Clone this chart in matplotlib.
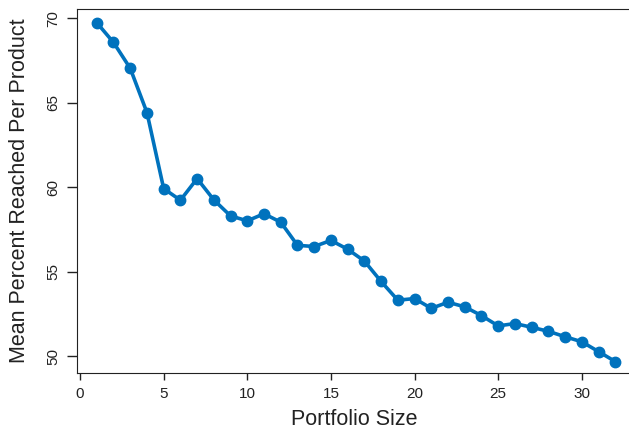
import matplotlib
matplotlib.use("Agg")
import matplotlib.pyplot as plt

# Portfolio size vs mean percent reached per product
portfolio_size = list(range(1, 33))
mean_pct = [69.74, 68.57, 67.04, 64.42, 59.92, 59.23, 60.51, 59.25,
            58.30, 58.01, 58.43, 57.93, 56.56, 56.49, 56.85, 56.33,
            55.63, 54.42, 53.31, 53.41, 52.83, 53.19, 52.92, 52.40,
            51.79, 51.93, 51.71, 51.47, 51.15, 50.85, 50.27, 49.68]
x_ticks = [0, 5, 10, 15, 20, 25, 30]
y_ticks = [50, 55, 60, 65, 70]

plt.rcParams["font.family"] = ["Liberation Sans", "DejaVu Sans"]

fig = plt.figure(figsize=(6.29, 4.29), dpi=100)
ax = fig.add_axes([76.7 / 629, 1 - 372.7 / 429, (632 - 76.7) / 629, (372.7 - 9) / 429])

ax.plot(portfolio_size, mean_pct, color="#0072BD", lw=2.6, marker="o", ms=7.5)

ax.set_xlim(-0.2, 33.0)
ax.set_ylim(49.02, 70.55)
ax.set_xticks(x_ticks)
ax.set_yticks(y_ticks)
ax.tick_params(direction="out", width=1, labelsize=11, colors="#222222")
ax.tick_params(axis="x", length=5, pad=5)
ax.tick_params(axis="y", length=7, pad=5)
for lbl in ax.get_yticklabels():
    lbl.set_rotation(90)
    lbl.set_va("center")
for s in ax.spines.values():
    s.set_color("#222222")
ax.spines["right"].set_visible(False)

ax.set_xlabel("Portfolio Size", fontsize=15.5, color="#222222", labelpad=6)
ax.set_ylabel("Mean Percent Reached Per Product", fontsize=15.5, color="#222222", labelpad=11.5)

fig.savefig("out.png", dpi=100)
